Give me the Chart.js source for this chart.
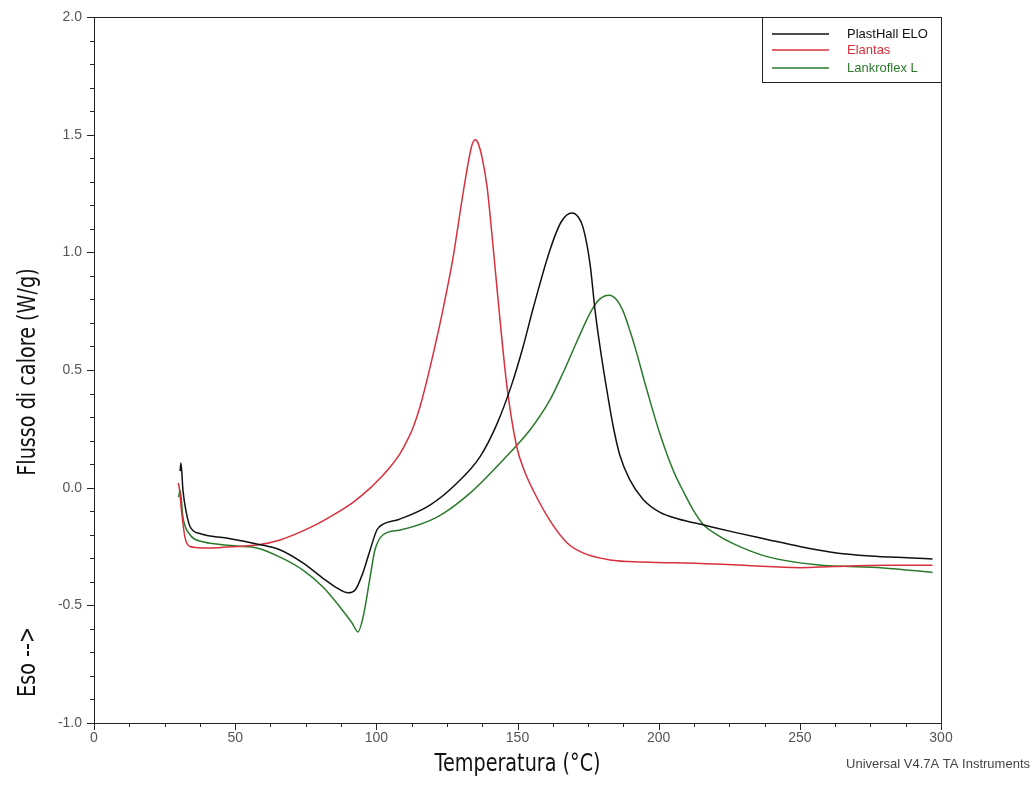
<!DOCTYPE html>
<html>
    <head>
        <meta charset = "UTF-8">
        <title>DSC - Flusso di calore</title>
        <script src = "https://cdn.jsdelivr.net/npm/chart.js@4.4.1/dist/chart.umd.min.js"></script>
        <style>
            body{margin:0;background:#fff;}
            canvas{display:block;}
        </style>
    </head>
    <body>
        <canvas id = "dsc" width = "1034" height = "785"></canvas>
        <script>
            //series names as in the legend
            const seriesNames = ["PlastHall ELO","Elantas","Lankroflex L"];
            const seriesColors = ["#111111","#d8303c","#2b7a2b"];

            //PlastHall ELO, temperatura (C) and flusso (W/g)
            const plastTemp = [30.5,30.8,31.5,32.6,34,37.5,47,58,66,74,81,86,90,92.5,95.3,97.8,100.2,102.4,108,119,128.6,136.7,142.7,148,152,155.5,161.5,165.5,169.3,171.5,173.2,175.7,177.5,179.2,181.7,183.9,186.2,189.7,194.5,200.5,207,215.7,227,238.4,250,261.8,275,288,297];
            const plastFlow = [0.07,0.105,-0.01,-0.10,-0.165,-0.195,-0.214,-0.24,-0.265,-0.32,-0.384,-0.426,-0.447,-0.435,-0.36,-0.265,-0.18,-0.155,-0.135,-0.074,0.02,0.131,0.27,0.44,0.6,0.76,1.01,1.13,1.167,1.15,1.107,0.95,0.75,0.6,0.41,0.26,0.14,0.035,-0.05,-0.105,-0.133,-0.158,-0.19,-0.22,-0.25,-0.275,-0.29,-0.298,-0.303];

            //Elantas
            const elantasTemp = [29.8,30.2,31,32.2,34,38.6,44,50.6,57.7,65.9,76.5,86,92,97.8,101.3,104,108.4,110.9,113,115.5,118,122.6,127.2,130.7,133,134,135,136,137.5,139.2,141,142.7,146.3,149.7,152.5,155.5,161.5,167.6,173.2,182.8,194.5,214.7,230,250,262,280,297];
            const elantasFlow = [0.02,0.0,-0.1,-0.21,-0.25,-0.256,-0.255,-0.25,-0.244,-0.222,-0.17,-0.107,-0.06,-0.002,0.04,0.075,0.145,0.2,0.255,0.345,0.46,0.7,0.98,1.25,1.41,1.46,1.478,1.465,1.40,1.28,1.07,0.852,0.427,0.175,0.07,-0.01,-0.14,-0.235,-0.277,-0.307,-0.316,-0.322,-0.33,-0.34,-0.335,-0.33,-0.33];

            //Lankroflex L
            const lankroTemp = [30,30.5,31.5,34,38.6,44,50.6,57.7,65.9,74,81.1,87.1,91.4,93.5,95.3,97.8,99.5,102.4,108.4,121.5,133.2,144.9,154.4,161.5,166.1,171,175.7,179,182.5,185,187.4,190,192.5,195,197.5,200,203,206,208.7,212,215.7,220,226.4,238.4,256,279.5,297];
            const lankroFlow = [-0.04,-0.01,-0.125,-0.2,-0.23,-0.24,-0.248,-0.256,-0.295,-0.35,-0.422,-0.507,-0.575,-0.613,-0.55,-0.38,-0.265,-0.2,-0.18,-0.125,-0.023,0.118,0.245,0.373,0.487,0.62,0.742,0.8,0.818,0.8,0.75,0.66,0.56,0.45,0.345,0.245,0.14,0.05,-0.015,-0.09,-0.155,-0.195,-0.238,-0.293,-0.328,-0.341,-0.36];

            const xTitle = "Temperatura (°C)";
            const yTitle = "Flusso di calore (W/g)";
            const exoNote = "Eso -->";
            const footNote = "Universal V4.7A TA Instruments";

            const titleFont = "24px 'DejaVu Sans',sans-serif";
            const plain = "'Liberation Sans',Arial,sans-serif";

            function toPoints(xs,ys){
                return xs.map((x,i)=>({x:x,y:ys[i]}));
            }

            const series = [
                toPoints(plastTemp,plastFlow),
                toPoints(elantasTemp,elantasFlow),
                toPoints(lankroTemp,lankroFlow)
            ];

            //narrow lettering like the instrument software titles
            function narrowText(ctx,text,x,y,rotate){
                ctx.save();
                ctx.translate(x,y);
                if(rotate) ctx.rotate(-Math.PI/2);
                ctx.scale(0.8,1);
                ctx.fillText(text,0,0);
                ctx.restore();
            }

            //frame, small ticks, titles and the boxed legend
            const decorations = {
                id:"decorations",
                afterDraw(chart){
                    const {ctx,chartArea:a,scales} = chart;
                    const x = scales.x, y = scales.y;
                    ctx.save();
                    ctx.strokeStyle = "#222";
                    ctx.lineWidth = 1;
                    ctx.strokeRect(a.left+0.5,a.top+0.5,a.right-a.left,a.bottom-a.top);

                    //y ticks every 0.1, longer every 0.5
                    ctx.beginPath();
                    for(let i=0;i<=30;i++){
                        const v = -1+i*0.1;
                        const py = Math.round(y.getPixelForValue(v))+0.5;
                        const len = (i%5===0)?7:4;
                        ctx.moveTo(a.left-len,py);
                        ctx.lineTo(a.left,py);
                    }
                    //x ticks every 12.5, longer every 50
                    for(let i=0;i<=24;i++){
                        const v = i*12.5;
                        const px = Math.round(x.getPixelForValue(v))+0.5;
                        const len = (i%4===0)?7:4;
                        ctx.moveTo(px,a.bottom);
                        ctx.lineTo(px,a.bottom+len);
                    }
                    ctx.stroke();

                    //axis titles
                    ctx.fillStyle = "#111";
                    ctx.textAlign = "center";
                    ctx.textBaseline = "middle";
                    ctx.font = titleFont;
                    narrowText(ctx,xTitle,(a.left+a.right)/2,765,false);
                    narrowText(ctx,yTitle,29,372,true);
                    narrowText(ctx,exoNote,29,662,true);

                    ctx.font = "13px "+plain;
                    ctx.fillStyle = "#444";
                    ctx.textAlign = "right";
                    ctx.fillText(footNote,1030,764);

                    //legend box in the top right corner
                    const boxL = 762, boxT = a.top, boxR = a.right, boxB = 82;
                    ctx.fillStyle = "#fff";
                    ctx.fillRect(boxL,boxT,boxR-boxL,boxB-boxT);
                    ctx.strokeStyle = "#222";
                    ctx.strokeRect(boxL+0.5,boxT+0.5,boxR-boxL,boxB-boxT);
                    ctx.font = "13px "+plain;
                    ctx.textAlign = "left";
                    const rows = [34,50,68];
                    seriesNames.forEach((name,i)=>{
                        ctx.strokeStyle = seriesColors[i];
                        ctx.lineWidth = 1.5;
                        ctx.beginPath();
                        ctx.moveTo(772,rows[i]);
                        ctx.lineTo(829,rows[i]);
                        ctx.stroke();
                        ctx.fillStyle = seriesColors[i];
                        ctx.fillText(name,847,rows[i]);
                    });
                    ctx.restore();
                }
            };

            const chart = new Chart(document.getElementById("dsc"),{
                type:"line",
                data:{
                    datasets:series.map((pts,i)=>({
                        label:seriesNames[i],
                        data:pts,
                        borderColor:seriesColors[i],
                        borderWidth:1.5,
                        pointRadius:0,
                        fill:false,
                        cubicInterpolationMode:"monotone"
                    }))
                },
                options:{
                    responsive:false,
                    animation:false,
                    devicePixelRatio:1,
                    layout:{padding:{left:0,top:17,right:93,bottom:0}},
                    plugins:{legend:{display:false},tooltip:{enabled:false}},
                    scales:{
                        x:{
                            type:"linear",
                            min:0,max:300,
                            ticks:{stepSize:50,color:"#555",font:{family:plain,size:14},padding:0,maxRotation:0},
                            grid:{drawOnChartArea:false,tickLength:7,tickColor:"rgba(0,0,0,0)"},
                            border:{display:false},
                            afterFit(s){s.height = 62;}
                        },
                        y:{
                            min:-1,max:2,
                            ticks:{stepSize:0.5,color:"#555",font:{family:plain,size:14},padding:5,
                                callback:v=>v.toFixed(1)},
                            grid:{drawOnChartArea:false,tickLength:7,tickColor:"rgba(0,0,0,0)"},
                            border:{display:false},
                            afterFit(s){s.width = 94;}
                        }
                    }
                },
                plugins:[decorations]
            });
        </script>
    </body>
</html>
